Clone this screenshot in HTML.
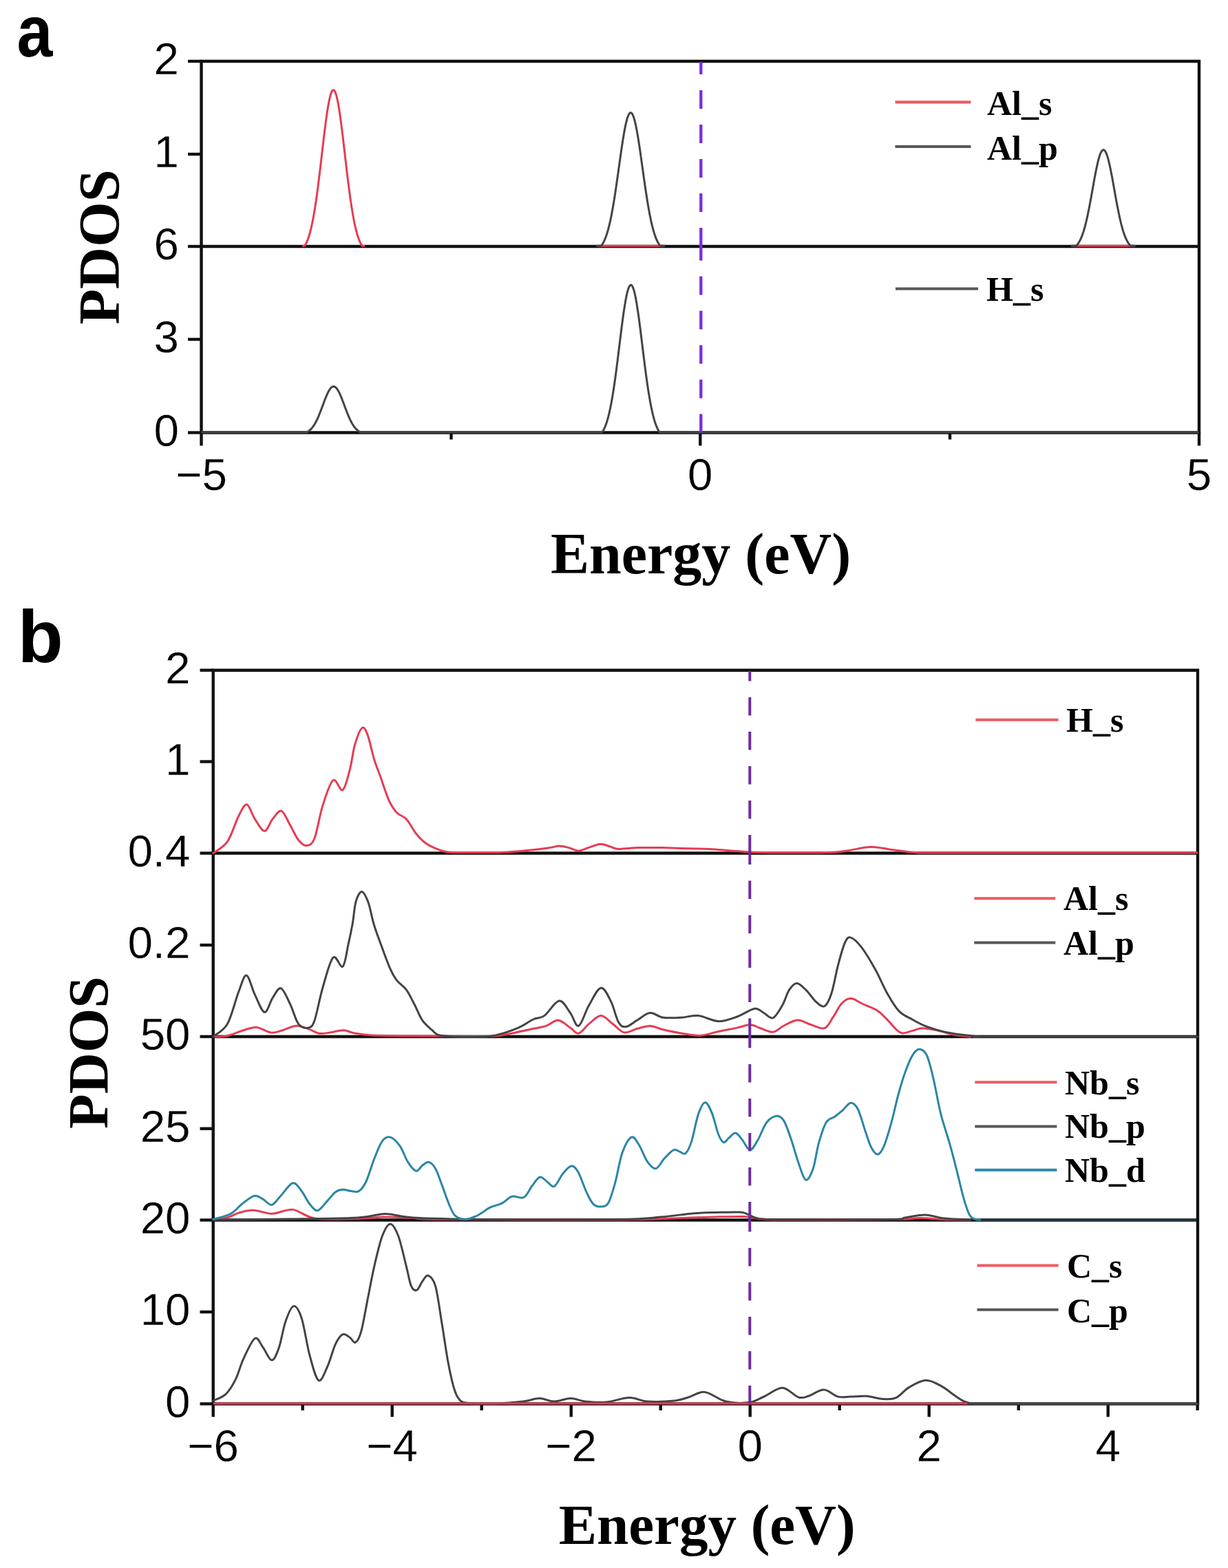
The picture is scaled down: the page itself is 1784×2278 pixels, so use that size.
<!DOCTYPE html><html><head><meta charset="utf-8"><title>PDOS</title><style>html,body{margin:0;padding:0;background:#fff;}svg{display:block;}.tk{font-family:"Liberation Sans",Arial,sans-serif;font-size:65.5px;fill:#000;stroke:#fff;stroke-width:0.3px;}.lg{font-family:"Liberation Serif","Times New Roman",serif;font-weight:bold;font-size:50px;fill:#000;}.ax{font-family:"Liberation Serif","Times New Roman",serif;font-weight:bold;fill:#000;}.pl{font-family:"Liberation Sans",Arial,sans-serif;font-weight:bold;fill:#000;}</style></head><body><svg width="1784" height="2278" viewBox="0 0 1784 2278"><rect width="1784" height="2278" fill="#fff"/><path d="M292.5,89.0 H1742.0 V628.5 H292.5 Z" fill="none" stroke="#111111" stroke-width="4.4"/><line x1="292.5" y1="358.0" x2="1742.0" y2="358.0" stroke="#111111" stroke-width="4.4"/><line x1="273.0" y1="89.0" x2="292.5" y2="89.0" stroke="#111111" stroke-width="4.4"/><line x1="273.0" y1="224.0" x2="292.5" y2="224.0" stroke="#111111" stroke-width="4.4"/><line x1="273.0" y1="358.0" x2="292.5" y2="358.0" stroke="#111111" stroke-width="4.4"/><line x1="273.0" y1="493.0" x2="292.5" y2="493.0" stroke="#111111" stroke-width="4.4"/><line x1="273.0" y1="628.5" x2="292.5" y2="628.5" stroke="#111111" stroke-width="4.4"/><line x1="292.5" y1="628.5" x2="292.5" y2="647.5" stroke="#111111" stroke-width="4.4"/><line x1="1017.3" y1="628.5" x2="1017.3" y2="647.5" stroke="#111111" stroke-width="4.4"/><line x1="1742.0" y1="628.5" x2="1742.0" y2="647.5" stroke="#111111" stroke-width="4.4"/><line x1="655.5" y1="628.5" x2="655.5" y2="638.5" stroke="#111111" stroke-width="4.4"/><line x1="1380.0" y1="628.5" x2="1380.0" y2="638.5" stroke="#111111" stroke-width="4.4"/><path d="M439.0,357.2 L440.0,357.2 L441.0,357.2 L442.0,357.2 L443.0,356.6 L444.0,354.9 L445.0,352.9 L446.0,350.7 L447.0,348.2 L448.0,345.5 L449.0,342.5 L450.0,339.1 L451.0,335.4 L452.0,331.4 L453.0,327.0 L454.0,322.2 L455.0,317.1 L456.0,311.6 L457.0,305.7 L458.0,299.4 L459.0,292.8 L460.0,285.8 L461.0,278.4 L462.0,270.8 L463.0,262.9 L464.0,254.8 L465.0,246.4 L466.0,238.0 L467.0,229.4 L468.0,220.8 L469.0,212.2 L470.0,203.7 L471.0,195.3 L472.0,187.2 L473.0,179.3 L474.0,171.9 L475.0,164.9 L476.0,158.3 L477.0,152.4 L478.0,147.0 L479.0,142.4 L480.0,138.5 L481.0,135.3 L482.0,132.9 L483.0,131.4 L484.0,130.7 L485.0,130.9 L486.0,131.9 L487.0,133.8 L488.0,136.5 L489.0,139.9 L490.0,144.2 L491.0,149.1 L492.0,154.7 L493.0,160.9 L494.0,167.6 L495.0,174.8 L496.0,182.4 L497.0,190.4 L498.0,198.6 L499.0,207.0 L500.0,215.6 L501.0,224.2 L502.0,232.8 L503.0,241.4 L504.0,249.8 L505.0,258.1 L506.0,266.1 L507.0,273.9 L508.0,281.4 L509.0,288.6 L510.0,295.5 L511.0,302.0 L512.0,308.1 L513.0,313.8 L514.0,319.2 L515.0,324.2 L516.0,328.8 L517.0,333.0 L518.0,336.9 L519.0,340.5 L520.0,343.7 L521.0,346.6 L522.0,349.3 L523.0,351.6 L524.0,353.7 L525.0,355.6 L526.0,357.2 L527.0,357.2 L528.0,357.2 L529.0,357.2 L530.0,357.2" fill="none" stroke="#e63c52" stroke-width="3.0" stroke-linejoin="round"/><line x1="868.0" y1="357.2" x2="965.0" y2="357.2" stroke="#e63c52" stroke-width="3.0"/><line x1="1558.0" y1="357.2" x2="1648.0" y2="357.2" stroke="#e63c52" stroke-width="3.0"/><path d="M866.0,357.2 L867.0,357.2 L868.0,357.2 L869.0,357.2 L870.0,357.2 L871.0,357.2 L872.0,357.2 L873.0,357.2 L874.0,356.4 L875.0,355.0 L876.0,353.3 L877.0,351.4 L878.0,349.4 L879.0,347.1 L880.0,344.5 L881.0,341.7 L882.0,338.7 L883.0,335.3 L884.0,331.7 L885.0,327.7 L886.0,323.5 L887.0,319.0 L888.0,314.1 L889.0,308.9 L890.0,303.5 L891.0,297.7 L892.0,291.7 L893.0,285.4 L894.0,278.9 L895.0,272.2 L896.0,265.3 L897.0,258.3 L898.0,251.2 L899.0,244.0 L900.0,236.8 L901.0,229.7 L902.0,222.7 L903.0,215.8 L904.0,209.2 L905.0,202.8 L906.0,196.7 L907.0,191.0 L908.0,185.7 L909.0,180.9 L910.0,176.6 L911.0,172.8 L912.0,169.7 L913.0,167.2 L914.0,165.4 L915.0,164.2 L916.0,163.7 L917.0,163.9 L918.0,164.8 L919.0,166.4 L920.0,168.6 L921.0,171.5 L922.0,175.0 L923.0,179.1 L924.0,183.7 L925.0,188.8 L926.0,194.3 L927.0,200.3 L928.0,206.6 L929.0,213.1 L930.0,219.9 L931.0,226.9 L932.0,234.0 L933.0,241.1 L934.0,248.3 L935.0,255.5 L936.0,262.5 L937.0,269.5 L938.0,276.2 L939.0,282.8 L940.0,289.2 L941.0,295.3 L942.0,301.2 L943.0,306.8 L944.0,312.1 L945.0,317.0 L946.0,321.7 L947.0,326.1 L948.0,330.1 L949.0,333.9 L950.0,337.4 L951.0,340.5 L952.0,343.4 L953.0,346.1 L954.0,348.5 L955.0,350.6 L956.0,352.6 L957.0,354.3 L958.0,355.9 L959.0,357.2 L960.0,357.2 L961.0,357.2 L962.0,357.2 L963.0,357.2 L964.0,357.2 L965.0,357.2 L966.0,357.2" fill="none" stroke="#444444" stroke-width="3.0" stroke-linejoin="round"/><path d="M1556.0,357.2 L1557.0,357.2 L1558.0,357.2 L1559.0,357.2 L1560.0,357.2 L1561.0,357.2 L1562.0,357.2 L1563.0,357.2 L1564.0,356.7 L1565.0,355.6 L1566.0,354.2 L1567.0,352.8 L1568.0,351.1 L1569.0,349.2 L1570.0,347.2 L1571.0,344.9 L1572.0,342.4 L1573.0,339.6 L1574.0,336.6 L1575.0,333.3 L1576.0,329.8 L1577.0,326.0 L1578.0,322.0 L1579.0,317.6 L1580.0,313.1 L1581.0,308.3 L1582.0,303.4 L1583.0,298.2 L1584.0,292.9 L1585.0,287.4 L1586.0,281.9 L1587.0,276.3 L1588.0,270.7 L1589.0,265.1 L1590.0,259.6 L1591.0,254.3 L1592.0,249.1 L1593.0,244.2 L1594.0,239.6 L1595.0,235.3 L1596.0,231.4 L1597.0,227.9 L1598.0,224.8 L1599.0,222.3 L1600.0,220.3 L1601.0,218.9 L1602.0,218.0 L1603.0,217.7 L1604.0,218.0 L1605.0,218.9 L1606.0,220.3 L1607.0,222.3 L1608.0,224.8 L1609.0,227.9 L1610.0,231.4 L1611.0,235.3 L1612.0,239.6 L1613.0,244.2 L1614.0,249.1 L1615.0,254.3 L1616.0,259.6 L1617.0,265.1 L1618.0,270.7 L1619.0,276.3 L1620.0,281.9 L1621.0,287.4 L1622.0,292.9 L1623.0,298.2 L1624.0,303.4 L1625.0,308.3 L1626.0,313.1 L1627.0,317.6 L1628.0,322.0 L1629.0,326.0 L1630.0,329.8 L1631.0,333.3 L1632.0,336.6 L1633.0,339.6 L1634.0,342.4 L1635.0,344.9 L1636.0,347.2 L1637.0,349.2 L1638.0,351.1 L1639.0,352.8 L1640.0,354.2 L1641.0,355.6 L1642.0,356.7 L1643.0,357.2 L1644.0,357.2 L1645.0,357.2 L1646.0,357.2 L1647.0,357.2 L1648.0,357.2 L1649.0,357.2 L1650.0,357.2" fill="none" stroke="#444444" stroke-width="3.0" stroke-linejoin="round"/><path d="M292.5,628.0 L293.5,628.0 L294.5,628.0 L295.5,628.0 L296.5,628.0 L297.5,628.0 L298.5,628.0 L299.5,628.0 L300.5,628.0 L301.5,628.0 L302.5,628.0 L303.5,628.0 L304.5,628.0 L305.5,628.0 L306.5,628.0 L307.5,628.0 L308.5,628.0 L309.5,628.0 L310.5,628.0 L311.5,628.0 L312.5,628.0 L313.5,628.0 L314.5,628.0 L315.5,628.0 L316.5,628.0 L317.5,628.0 L318.5,628.0 L319.5,628.0 L320.5,628.0 L321.5,628.0 L322.5,628.0 L323.5,628.0 L324.5,628.0 L325.5,628.0 L326.5,628.0 L327.5,628.0 L328.5,628.0 L329.5,628.0 L330.5,628.0 L331.5,628.0 L332.5,628.0 L333.5,628.0 L334.5,628.0 L335.5,628.0 L336.5,628.0 L337.5,628.0 L338.5,628.0 L339.5,628.0 L340.5,628.0 L341.5,628.0 L342.5,628.0 L343.5,628.0 L344.5,628.0 L345.5,628.0 L346.5,628.0 L347.5,628.0 L348.5,628.0 L349.5,628.0 L350.5,628.0 L351.5,628.0 L352.5,628.0 L353.5,628.0 L354.5,628.0 L355.5,628.0 L356.5,628.0 L357.5,628.0 L358.5,628.0 L359.5,628.0 L360.5,628.0 L361.5,628.0 L362.5,628.0 L363.5,628.0 L364.5,628.0 L365.5,628.0 L366.5,628.0 L367.5,628.0 L368.5,628.0 L369.5,628.0 L370.5,628.0 L371.5,628.0 L372.5,628.0 L373.5,628.0 L374.5,628.0 L375.5,628.0 L376.5,628.0 L377.5,628.0 L378.5,628.0 L379.5,628.0 L380.5,628.0 L381.5,628.0 L382.5,628.0 L383.5,628.0 L384.5,628.0 L385.5,628.0 L386.5,628.0 L387.5,628.0 L388.5,628.0 L389.5,628.0 L390.5,628.0 L391.5,628.0 L392.5,628.0 L393.5,628.0 L394.5,628.0 L395.5,628.0 L396.5,628.0 L397.5,628.0 L398.5,628.0 L399.5,628.0 L400.5,628.0 L401.5,628.0 L402.5,628.0 L403.5,628.0 L404.5,628.0 L405.5,628.0 L406.5,628.0 L407.5,628.0 L408.5,628.0 L409.5,628.0 L410.5,628.0 L411.5,628.0 L412.5,628.0 L413.5,628.0 L414.5,628.0 L415.5,628.0 L416.5,628.0 L417.5,628.0 L418.5,628.0 L419.5,628.0 L420.5,628.0 L421.5,628.0 L422.5,628.0 L423.5,628.0 L424.5,628.0 L425.5,628.0 L426.5,628.0 L427.5,628.0 L428.5,628.0 L429.5,628.0 L430.5,628.0 L431.5,628.0 L432.5,628.0 L433.5,628.0 L434.5,628.0 L435.5,628.0 L436.5,628.0 L437.5,628.0 L438.5,628.0 L439.5,628.0 L440.5,628.0 L441.5,628.0 L442.5,628.0 L443.5,628.0 L444.5,628.0 L445.5,628.0 L446.5,627.5 L447.5,626.9 L448.5,626.2 L449.5,625.4 L450.5,624.6 L451.5,623.6 L452.5,622.6 L453.5,621.4 L454.5,620.1 L455.5,618.7 L456.5,617.2 L457.5,615.5 L458.5,613.7 L459.5,611.8 L460.5,609.8 L461.5,607.6 L462.5,605.4 L463.5,603.0 L464.5,600.5 L465.5,598.0 L466.5,595.4 L467.5,592.7 L468.5,590.1 L469.5,587.4 L470.5,584.7 L471.5,582.0 L472.5,579.5 L473.5,577.0 L474.5,574.6 L475.5,572.3 L476.5,570.2 L477.5,568.3 L478.5,566.6 L479.5,565.1 L480.5,563.8 L481.5,562.8 L482.5,562.1 L483.5,561.7 L484.5,561.5 L485.5,561.6 L486.5,562.0 L487.5,562.7 L488.5,563.6 L489.5,564.8 L490.5,566.3 L491.5,567.9 L492.5,569.8 L493.5,571.9 L494.5,574.1 L495.5,576.5 L496.5,578.9 L497.5,581.5 L498.5,584.2 L499.5,586.8 L500.5,589.5 L501.5,592.2 L502.5,594.9 L503.5,597.5 L504.5,600.0 L505.5,602.5 L506.5,604.9 L507.5,607.2 L508.5,609.4 L509.5,611.4 L510.5,613.3 L511.5,615.2 L512.5,616.8 L513.5,618.4 L514.5,619.8 L515.5,621.1 L516.5,622.3 L517.5,623.4 L518.5,624.4 L519.5,625.3 L520.5,626.0 L521.5,626.7 L522.5,627.3 L523.5,627.9 L524.5,628.0 L525.5,628.0 L526.5,628.0 L527.5,628.0 L528.5,628.0 L529.5,628.0 L530.5,628.0 L531.5,628.0 L532.5,628.0 L533.5,628.0 L534.5,628.0 L535.5,628.0 L536.5,628.0 L537.5,628.0 L538.5,628.0 L539.5,628.0 L540.5,628.0 L541.5,628.0 L542.5,628.0 L543.5,628.0 L544.5,628.0 L545.5,628.0 L546.5,628.0 L547.5,628.0 L548.5,628.0 L549.5,628.0 L550.5,628.0 L551.5,628.0 L552.5,628.0 L553.5,628.0 L554.5,628.0 L555.5,628.0 L556.5,628.0 L557.5,628.0 L558.5,628.0 L559.5,628.0 L560.5,628.0 L561.5,628.0 L562.5,628.0 L563.5,628.0 L564.5,628.0 L565.5,628.0 L566.5,628.0 L567.5,628.0 L568.5,628.0 L569.5,628.0 L570.5,628.0 L571.5,628.0 L572.5,628.0 L573.5,628.0 L574.5,628.0 L575.5,628.0 L576.5,628.0 L577.5,628.0 L578.5,628.0 L579.5,628.0 L580.5,628.0 L581.5,628.0 L582.5,628.0 L583.5,628.0 L584.5,628.0 L585.5,628.0 L586.5,628.0 L587.5,628.0 L588.5,628.0 L589.5,628.0 L590.5,628.0 L591.5,628.0 L592.5,628.0 L593.5,628.0 L594.5,628.0 L595.5,628.0 L596.5,628.0 L597.5,628.0 L598.5,628.0 L599.5,628.0 L600.5,628.0 L601.5,628.0 L602.5,628.0 L603.5,628.0 L604.5,628.0 L605.5,628.0 L606.5,628.0 L607.5,628.0 L608.5,628.0 L609.5,628.0 L610.5,628.0 L611.5,628.0 L612.5,628.0 L613.5,628.0 L614.5,628.0 L615.5,628.0 L616.5,628.0 L617.5,628.0 L618.5,628.0 L619.5,628.0 L620.5,628.0 L621.5,628.0 L622.5,628.0 L623.5,628.0 L624.5,628.0 L625.5,628.0 L626.5,628.0 L627.5,628.0 L628.5,628.0 L629.5,628.0 L630.5,628.0 L631.5,628.0 L632.5,628.0 L633.5,628.0 L634.5,628.0 L635.5,628.0 L636.5,628.0 L637.5,628.0 L638.5,628.0 L639.5,628.0 L640.5,628.0 L641.5,628.0 L642.5,628.0 L643.5,628.0 L644.5,628.0 L645.5,628.0 L646.5,628.0 L647.5,628.0 L648.5,628.0 L649.5,628.0 L650.5,628.0 L651.5,628.0 L652.5,628.0 L653.5,628.0 L654.5,628.0 L655.5,628.0 L656.5,628.0 L657.5,628.0 L658.5,628.0 L659.5,628.0 L660.5,628.0 L661.5,628.0 L662.5,628.0 L663.5,628.0 L664.5,628.0 L665.5,628.0 L666.5,628.0 L667.5,628.0 L668.5,628.0 L669.5,628.0 L670.5,628.0 L671.5,628.0 L672.5,628.0 L673.5,628.0 L674.5,628.0 L675.5,628.0 L676.5,628.0 L677.5,628.0 L678.5,628.0 L679.5,628.0 L680.5,628.0 L681.5,628.0 L682.5,628.0 L683.5,628.0 L684.5,628.0 L685.5,628.0 L686.5,628.0 L687.5,628.0 L688.5,628.0 L689.5,628.0 L690.5,628.0 L691.5,628.0 L692.5,628.0 L693.5,628.0 L694.5,628.0 L695.5,628.0 L696.5,628.0 L697.5,628.0 L698.5,628.0 L699.5,628.0 L700.5,628.0 L701.5,628.0 L702.5,628.0 L703.5,628.0 L704.5,628.0 L705.5,628.0 L706.5,628.0 L707.5,628.0 L708.5,628.0 L709.5,628.0 L710.5,628.0 L711.5,628.0 L712.5,628.0 L713.5,628.0 L714.5,628.0 L715.5,628.0 L716.5,628.0 L717.5,628.0 L718.5,628.0 L719.5,628.0 L720.5,628.0 L721.5,628.0 L722.5,628.0 L723.5,628.0 L724.5,628.0 L725.5,628.0 L726.5,628.0 L727.5,628.0 L728.5,628.0 L729.5,628.0 L730.5,628.0 L731.5,628.0 L732.5,628.0 L733.5,628.0 L734.5,628.0 L735.5,628.0 L736.5,628.0 L737.5,628.0 L738.5,628.0 L739.5,628.0 L740.5,628.0 L741.5,628.0 L742.5,628.0 L743.5,628.0 L744.5,628.0 L745.5,628.0 L746.5,628.0 L747.5,628.0 L748.5,628.0 L749.5,628.0 L750.5,628.0 L751.5,628.0 L752.5,628.0 L753.5,628.0 L754.5,628.0 L755.5,628.0 L756.5,628.0 L757.5,628.0 L758.5,628.0 L759.5,628.0 L760.5,628.0 L761.5,628.0 L762.5,628.0 L763.5,628.0 L764.5,628.0 L765.5,628.0 L766.5,628.0 L767.5,628.0 L768.5,628.0 L769.5,628.0 L770.5,628.0 L771.5,628.0 L772.5,628.0 L773.5,628.0 L774.5,628.0 L775.5,628.0 L776.5,628.0 L777.5,628.0 L778.5,628.0 L779.5,628.0 L780.5,628.0 L781.5,628.0 L782.5,628.0 L783.5,628.0 L784.5,628.0 L785.5,628.0 L786.5,628.0 L787.5,628.0 L788.5,628.0 L789.5,628.0 L790.5,628.0 L791.5,628.0 L792.5,628.0 L793.5,628.0 L794.5,628.0 L795.5,628.0 L796.5,628.0 L797.5,628.0 L798.5,628.0 L799.5,628.0 L800.5,628.0 L801.5,628.0 L802.5,628.0 L803.5,628.0 L804.5,628.0 L805.5,628.0 L806.5,628.0 L807.5,628.0 L808.5,628.0 L809.5,628.0 L810.5,628.0 L811.5,628.0 L812.5,628.0 L813.5,628.0 L814.5,628.0 L815.5,628.0 L816.5,628.0 L817.5,628.0 L818.5,628.0 L819.5,628.0 L820.5,628.0 L821.5,628.0 L822.5,628.0 L823.5,628.0 L824.5,628.0 L825.5,628.0 L826.5,628.0 L827.5,628.0 L828.5,628.0 L829.5,628.0 L830.5,628.0 L831.5,628.0 L832.5,628.0 L833.5,628.0 L834.5,628.0 L835.5,628.0 L836.5,628.0 L837.5,628.0 L838.5,628.0 L839.5,628.0 L840.5,628.0 L841.5,628.0 L842.5,628.0 L843.5,628.0 L844.5,628.0 L845.5,628.0 L846.5,628.0 L847.5,628.0 L848.5,628.0 L849.5,628.0 L850.5,628.0 L851.5,628.0 L852.5,628.0 L853.5,628.0 L854.5,628.0 L855.5,628.0 L856.5,628.0 L857.5,628.0 L858.5,628.0 L859.5,628.0 L860.5,628.0 L861.5,628.0 L862.5,628.0 L863.5,628.0 L864.5,628.0 L865.5,628.0 L866.5,628.0 L867.5,628.0 L868.5,628.0 L869.5,628.0 L870.5,628.0 L871.5,628.0 L872.5,628.0 L873.5,628.0 L874.5,628.0 L875.5,627.0 L876.5,625.3 L877.5,623.3 L878.5,621.2 L879.5,618.8 L880.5,616.1 L881.5,613.2 L882.5,609.9 L883.5,606.3 L884.5,602.4 L885.5,598.1 L886.5,593.5 L887.5,588.6 L888.5,583.3 L889.5,577.6 L890.5,571.5 L891.5,565.2 L892.5,558.5 L893.5,551.5 L894.5,544.2 L895.5,536.6 L896.5,528.9 L897.5,521.0 L898.5,512.9 L899.5,504.8 L900.5,496.6 L901.5,488.5 L902.5,480.5 L903.5,472.7 L904.5,465.1 L905.5,457.8 L906.5,450.9 L907.5,444.4 L908.5,438.4 L909.5,432.9 L910.5,428.0 L911.5,423.8 L912.5,420.4 L913.5,417.6 L914.5,415.6 L915.5,414.4 L916.5,414.0 L917.5,414.4 L918.5,415.6 L919.5,417.6 L920.5,420.4 L921.5,423.8 L922.5,428.0 L923.5,432.9 L924.5,438.4 L925.5,444.4 L926.5,450.9 L927.5,457.8 L928.5,465.1 L929.5,472.7 L930.5,480.5 L931.5,488.5 L932.5,496.6 L933.5,504.8 L934.5,512.9 L935.5,521.0 L936.5,528.9 L937.5,536.6 L938.5,544.2 L939.5,551.5 L940.5,558.5 L941.5,565.2 L942.5,571.5 L943.5,577.6 L944.5,583.3 L945.5,588.6 L946.5,593.5 L947.5,598.1 L948.5,602.4 L949.5,606.3 L950.5,609.9 L951.5,613.2 L952.5,616.1 L953.5,618.8 L954.5,621.2 L955.5,623.3 L956.5,625.3 L957.5,627.0 L958.5,628.0 L959.5,628.0 L960.5,628.0 L961.5,628.0 L962.5,628.0 L963.5,628.0 L964.5,628.0 L965.5,628.0 L966.5,628.0 L967.5,628.0 L968.5,628.0 L969.5,628.0 L970.5,628.0 L971.5,628.0 L972.5,628.0 L973.5,628.0 L974.5,628.0 L975.5,628.0 L976.5,628.0 L977.5,628.0 L978.5,628.0 L979.5,628.0 L980.5,628.0 L981.5,628.0 L982.5,628.0 L983.5,628.0 L984.5,628.0 L985.5,628.0 L986.5,628.0 L987.5,628.0 L988.5,628.0 L989.5,628.0 L990.5,628.0 L991.5,628.0 L992.5,628.0 L993.5,628.0 L994.5,628.0 L995.5,628.0 L996.5,628.0 L997.5,628.0 L998.5,628.0 L999.5,628.0 L1000.5,628.0 L1001.5,628.0 L1002.5,628.0 L1003.5,628.0 L1004.5,628.0 L1005.5,628.0 L1006.5,628.0 L1007.5,628.0 L1008.5,628.0 L1009.5,628.0 L1010.5,628.0 L1011.5,628.0 L1012.5,628.0 L1013.5,628.0 L1014.5,628.0 L1015.5,628.0 L1016.5,628.0 L1017.5,628.0 L1018.5,628.0 L1019.5,628.0 L1020.5,628.0 L1021.5,628.0 L1022.5,628.0 L1023.5,628.0 L1024.5,628.0 L1025.5,628.0 L1026.5,628.0 L1027.5,628.0 L1028.5,628.0 L1029.5,628.0 L1030.5,628.0 L1031.5,628.0 L1032.5,628.0 L1033.5,628.0 L1034.5,628.0 L1035.5,628.0 L1036.5,628.0 L1037.5,628.0 L1038.5,628.0 L1039.5,628.0 L1040.5,628.0 L1041.5,628.0 L1042.5,628.0 L1043.5,628.0 L1044.5,628.0 L1045.5,628.0 L1046.5,628.0 L1047.5,628.0 L1048.5,628.0 L1049.5,628.0 L1050.5,628.0 L1051.5,628.0 L1052.5,628.0 L1053.5,628.0 L1054.5,628.0 L1055.5,628.0 L1056.5,628.0 L1057.5,628.0 L1058.5,628.0 L1059.5,628.0 L1060.5,628.0 L1061.5,628.0 L1062.5,628.0 L1063.5,628.0 L1064.5,628.0 L1065.5,628.0 L1066.5,628.0 L1067.5,628.0 L1068.5,628.0 L1069.5,628.0 L1070.5,628.0 L1071.5,628.0 L1072.5,628.0 L1073.5,628.0 L1074.5,628.0 L1075.5,628.0 L1076.5,628.0 L1077.5,628.0 L1078.5,628.0 L1079.5,628.0 L1080.5,628.0 L1081.5,628.0 L1082.5,628.0 L1083.5,628.0 L1084.5,628.0 L1085.5,628.0 L1086.5,628.0 L1087.5,628.0 L1088.5,628.0 L1089.5,628.0 L1090.5,628.0 L1091.5,628.0 L1092.5,628.0 L1093.5,628.0 L1094.5,628.0 L1095.5,628.0 L1096.5,628.0 L1097.5,628.0 L1098.5,628.0 L1099.5,628.0 L1100.5,628.0 L1101.5,628.0 L1102.5,628.0 L1103.5,628.0 L1104.5,628.0 L1105.5,628.0 L1106.5,628.0 L1107.5,628.0 L1108.5,628.0 L1109.5,628.0 L1110.5,628.0 L1111.5,628.0 L1112.5,628.0 L1113.5,628.0 L1114.5,628.0 L1115.5,628.0 L1116.5,628.0 L1117.5,628.0 L1118.5,628.0 L1119.5,628.0 L1120.5,628.0 L1121.5,628.0 L1122.5,628.0 L1123.5,628.0 L1124.5,628.0 L1125.5,628.0 L1126.5,628.0 L1127.5,628.0 L1128.5,628.0 L1129.5,628.0 L1130.5,628.0 L1131.5,628.0 L1132.5,628.0 L1133.5,628.0 L1134.5,628.0 L1135.5,628.0 L1136.5,628.0 L1137.5,628.0 L1138.5,628.0 L1139.5,628.0 L1140.5,628.0 L1141.5,628.0 L1142.5,628.0 L1143.5,628.0 L1144.5,628.0 L1145.5,628.0 L1146.5,628.0 L1147.5,628.0 L1148.5,628.0 L1149.5,628.0 L1150.5,628.0 L1151.5,628.0 L1152.5,628.0 L1153.5,628.0 L1154.5,628.0 L1155.5,628.0 L1156.5,628.0 L1157.5,628.0 L1158.5,628.0 L1159.5,628.0 L1160.5,628.0 L1161.5,628.0 L1162.5,628.0 L1163.5,628.0 L1164.5,628.0 L1165.5,628.0 L1166.5,628.0 L1167.5,628.0 L1168.5,628.0 L1169.5,628.0 L1170.5,628.0 L1171.5,628.0 L1172.5,628.0 L1173.5,628.0 L1174.5,628.0 L1175.5,628.0 L1176.5,628.0 L1177.5,628.0 L1178.5,628.0 L1179.5,628.0 L1180.5,628.0 L1181.5,628.0 L1182.5,628.0 L1183.5,628.0 L1184.5,628.0 L1185.5,628.0 L1186.5,628.0 L1187.5,628.0 L1188.5,628.0 L1189.5,628.0 L1190.5,628.0 L1191.5,628.0 L1192.5,628.0 L1193.5,628.0 L1194.5,628.0 L1195.5,628.0 L1196.5,628.0 L1197.5,628.0 L1198.5,628.0 L1199.5,628.0 L1200.5,628.0 L1201.5,628.0 L1202.5,628.0 L1203.5,628.0 L1204.5,628.0 L1205.5,628.0 L1206.5,628.0 L1207.5,628.0 L1208.5,628.0 L1209.5,628.0 L1210.5,628.0 L1211.5,628.0 L1212.5,628.0 L1213.5,628.0 L1214.5,628.0 L1215.5,628.0 L1216.5,628.0 L1217.5,628.0 L1218.5,628.0 L1219.5,628.0 L1220.5,628.0 L1221.5,628.0 L1222.5,628.0 L1223.5,628.0 L1224.5,628.0 L1225.5,628.0 L1226.5,628.0 L1227.5,628.0 L1228.5,628.0 L1229.5,628.0 L1230.5,628.0 L1231.5,628.0 L1232.5,628.0 L1233.5,628.0 L1234.5,628.0 L1235.5,628.0 L1236.5,628.0 L1237.5,628.0 L1238.5,628.0 L1239.5,628.0 L1240.5,628.0 L1241.5,628.0 L1242.5,628.0 L1243.5,628.0 L1244.5,628.0 L1245.5,628.0 L1246.5,628.0 L1247.5,628.0 L1248.5,628.0 L1249.5,628.0 L1250.5,628.0 L1251.5,628.0 L1252.5,628.0 L1253.5,628.0 L1254.5,628.0 L1255.5,628.0 L1256.5,628.0 L1257.5,628.0 L1258.5,628.0 L1259.5,628.0 L1260.5,628.0 L1261.5,628.0 L1262.5,628.0 L1263.5,628.0 L1264.5,628.0 L1265.5,628.0 L1266.5,628.0 L1267.5,628.0 L1268.5,628.0 L1269.5,628.0 L1270.5,628.0 L1271.5,628.0 L1272.5,628.0 L1273.5,628.0 L1274.5,628.0 L1275.5,628.0 L1276.5,628.0 L1277.5,628.0 L1278.5,628.0 L1279.5,628.0 L1280.5,628.0 L1281.5,628.0 L1282.5,628.0 L1283.5,628.0 L1284.5,628.0 L1285.5,628.0 L1286.5,628.0 L1287.5,628.0 L1288.5,628.0 L1289.5,628.0 L1290.5,628.0 L1291.5,628.0 L1292.5,628.0 L1293.5,628.0 L1294.5,628.0 L1295.5,628.0 L1296.5,628.0 L1297.5,628.0 L1298.5,628.0 L1299.5,628.0 L1300.5,628.0 L1301.5,628.0 L1302.5,628.0 L1303.5,628.0 L1304.5,628.0 L1305.5,628.0 L1306.5,628.0 L1307.5,628.0 L1308.5,628.0 L1309.5,628.0 L1310.5,628.0 L1311.5,628.0 L1312.5,628.0 L1313.5,628.0 L1314.5,628.0 L1315.5,628.0 L1316.5,628.0 L1317.5,628.0 L1318.5,628.0 L1319.5,628.0 L1320.5,628.0 L1321.5,628.0 L1322.5,628.0 L1323.5,628.0 L1324.5,628.0 L1325.5,628.0 L1326.5,628.0 L1327.5,628.0 L1328.5,628.0 L1329.5,628.0 L1330.5,628.0 L1331.5,628.0 L1332.5,628.0 L1333.5,628.0 L1334.5,628.0 L1335.5,628.0 L1336.5,628.0 L1337.5,628.0 L1338.5,628.0 L1339.5,628.0 L1340.5,628.0 L1341.5,628.0 L1342.5,628.0 L1343.5,628.0 L1344.5,628.0 L1345.5,628.0 L1346.5,628.0 L1347.5,628.0 L1348.5,628.0 L1349.5,628.0 L1350.5,628.0 L1351.5,628.0 L1352.5,628.0 L1353.5,628.0 L1354.5,628.0 L1355.5,628.0 L1356.5,628.0 L1357.5,628.0 L1358.5,628.0 L1359.5,628.0 L1360.5,628.0 L1361.5,628.0 L1362.5,628.0 L1363.5,628.0 L1364.5,628.0 L1365.5,628.0 L1366.5,628.0 L1367.5,628.0 L1368.5,628.0 L1369.5,628.0 L1370.5,628.0 L1371.5,628.0 L1372.5,628.0 L1373.5,628.0 L1374.5,628.0 L1375.5,628.0 L1376.5,628.0 L1377.5,628.0 L1378.5,628.0 L1379.5,628.0 L1380.5,628.0 L1381.5,628.0 L1382.5,628.0 L1383.5,628.0 L1384.5,628.0 L1385.5,628.0 L1386.5,628.0 L1387.5,628.0 L1388.5,628.0 L1389.5,628.0 L1390.5,628.0 L1391.5,628.0 L1392.5,628.0 L1393.5,628.0 L1394.5,628.0 L1395.5,628.0 L1396.5,628.0 L1397.5,628.0 L1398.5,628.0 L1399.5,628.0 L1400.5,628.0 L1401.5,628.0 L1402.5,628.0 L1403.5,628.0 L1404.5,628.0 L1405.5,628.0 L1406.5,628.0 L1407.5,628.0 L1408.5,628.0 L1409.5,628.0 L1410.5,628.0 L1411.5,628.0 L1412.5,628.0 L1413.5,628.0 L1414.5,628.0 L1415.5,628.0 L1416.5,628.0 L1417.5,628.0 L1418.5,628.0 L1419.5,628.0 L1420.5,628.0 L1421.5,628.0 L1422.5,628.0 L1423.5,628.0 L1424.5,628.0 L1425.5,628.0 L1426.5,628.0 L1427.5,628.0 L1428.5,628.0 L1429.5,628.0 L1430.5,628.0 L1431.5,628.0 L1432.5,628.0 L1433.5,628.0 L1434.5,628.0 L1435.5,628.0 L1436.5,628.0 L1437.5,628.0 L1438.5,628.0 L1439.5,628.0 L1440.5,628.0 L1441.5,628.0 L1442.5,628.0 L1443.5,628.0 L1444.5,628.0 L1445.5,628.0 L1446.5,628.0 L1447.5,628.0 L1448.5,628.0 L1449.5,628.0 L1450.5,628.0 L1451.5,628.0 L1452.5,628.0 L1453.5,628.0 L1454.5,628.0 L1455.5,628.0 L1456.5,628.0 L1457.5,628.0 L1458.5,628.0 L1459.5,628.0 L1460.5,628.0 L1461.5,628.0 L1462.5,628.0 L1463.5,628.0 L1464.5,628.0 L1465.5,628.0 L1466.5,628.0 L1467.5,628.0 L1468.5,628.0 L1469.5,628.0 L1470.5,628.0 L1471.5,628.0 L1472.5,628.0 L1473.5,628.0 L1474.5,628.0 L1475.5,628.0 L1476.5,628.0 L1477.5,628.0 L1478.5,628.0 L1479.5,628.0 L1480.5,628.0 L1481.5,628.0 L1482.5,628.0 L1483.5,628.0 L1484.5,628.0 L1485.5,628.0 L1486.5,628.0 L1487.5,628.0 L1488.5,628.0 L1489.5,628.0 L1490.5,628.0 L1491.5,628.0 L1492.5,628.0 L1493.5,628.0 L1494.5,628.0 L1495.5,628.0 L1496.5,628.0 L1497.5,628.0 L1498.5,628.0 L1499.5,628.0 L1500.5,628.0 L1501.5,628.0 L1502.5,628.0 L1503.5,628.0 L1504.5,628.0 L1505.5,628.0 L1506.5,628.0 L1507.5,628.0 L1508.5,628.0 L1509.5,628.0 L1510.5,628.0 L1511.5,628.0 L1512.5,628.0 L1513.5,628.0 L1514.5,628.0 L1515.5,628.0 L1516.5,628.0 L1517.5,628.0 L1518.5,628.0 L1519.5,628.0 L1520.5,628.0 L1521.5,628.0 L1522.5,628.0 L1523.5,628.0 L1524.5,628.0 L1525.5,628.0 L1526.5,628.0 L1527.5,628.0 L1528.5,628.0 L1529.5,628.0 L1530.5,628.0 L1531.5,628.0 L1532.5,628.0 L1533.5,628.0 L1534.5,628.0 L1535.5,628.0 L1536.5,628.0 L1537.5,628.0 L1538.5,628.0 L1539.5,628.0 L1540.5,628.0 L1541.5,628.0 L1542.5,628.0 L1543.5,628.0 L1544.5,628.0 L1545.5,628.0 L1546.5,628.0 L1547.5,628.0 L1548.5,628.0 L1549.5,628.0 L1550.5,628.0 L1551.5,628.0 L1552.5,628.0 L1553.5,628.0 L1554.5,628.0 L1555.5,628.0 L1556.5,628.0 L1557.5,628.0 L1558.5,628.0 L1559.5,628.0 L1560.5,628.0 L1561.5,628.0 L1562.5,628.0 L1563.5,628.0 L1564.5,628.0 L1565.5,628.0 L1566.5,628.0 L1567.5,628.0 L1568.5,628.0 L1569.5,628.0 L1570.5,628.0 L1571.5,628.0 L1572.5,628.0 L1573.5,628.0 L1574.5,628.0 L1575.5,628.0 L1576.5,628.0 L1577.5,628.0 L1578.5,628.0 L1579.5,628.0 L1580.5,628.0 L1581.5,628.0 L1582.5,628.0 L1583.5,628.0 L1584.5,628.0 L1585.5,628.0 L1586.5,628.0 L1587.5,628.0 L1588.5,628.0 L1589.5,628.0 L1590.5,628.0 L1591.5,628.0 L1592.5,628.0 L1593.5,628.0 L1594.5,628.0 L1595.5,628.0 L1596.5,628.0 L1597.5,628.0 L1598.5,628.0 L1599.5,628.0 L1600.5,628.0 L1601.5,628.0 L1602.5,628.0 L1603.5,628.0 L1604.5,628.0 L1605.5,628.0 L1606.5,628.0 L1607.5,628.0 L1608.5,628.0 L1609.5,628.0 L1610.5,628.0 L1611.5,628.0 L1612.5,628.0 L1613.5,628.0 L1614.5,628.0 L1615.5,628.0 L1616.5,628.0 L1617.5,628.0 L1618.5,628.0 L1619.5,628.0 L1620.5,628.0 L1621.5,628.0 L1622.5,628.0 L1623.5,628.0 L1624.5,628.0 L1625.5,628.0 L1626.5,628.0 L1627.5,628.0 L1628.5,628.0 L1629.5,628.0 L1630.5,628.0 L1631.5,628.0 L1632.5,628.0 L1633.5,628.0 L1634.5,628.0 L1635.5,628.0 L1636.5,628.0 L1637.5,628.0 L1638.5,628.0 L1639.5,628.0 L1640.5,628.0 L1641.5,628.0 L1642.5,628.0 L1643.5,628.0 L1644.5,628.0 L1645.5,628.0 L1646.5,628.0 L1647.5,628.0 L1648.5,628.0 L1649.5,628.0 L1650.5,628.0 L1651.5,628.0 L1652.5,628.0 L1653.5,628.0 L1654.5,628.0 L1655.5,628.0 L1656.5,628.0 L1657.5,628.0 L1658.5,628.0 L1659.5,628.0 L1660.5,628.0 L1661.5,628.0 L1662.5,628.0 L1663.5,628.0 L1664.5,628.0 L1665.5,628.0 L1666.5,628.0 L1667.5,628.0 L1668.5,628.0 L1669.5,628.0 L1670.5,628.0 L1671.5,628.0 L1672.5,628.0 L1673.5,628.0 L1674.5,628.0 L1675.5,628.0 L1676.5,628.0 L1677.5,628.0 L1678.5,628.0 L1679.5,628.0 L1680.5,628.0 L1681.5,628.0 L1682.5,628.0 L1683.5,628.0 L1684.5,628.0 L1685.5,628.0 L1686.5,628.0 L1687.5,628.0 L1688.5,628.0 L1689.5,628.0 L1690.5,628.0 L1691.5,628.0 L1692.5,628.0 L1693.5,628.0 L1694.5,628.0 L1695.5,628.0 L1696.5,628.0 L1697.5,628.0 L1698.5,628.0 L1699.5,628.0 L1700.5,628.0 L1701.5,628.0 L1702.5,628.0 L1703.5,628.0 L1704.5,628.0 L1705.5,628.0 L1706.5,628.0 L1707.5,628.0 L1708.5,628.0 L1709.5,628.0 L1710.5,628.0 L1711.5,628.0 L1712.5,628.0 L1713.5,628.0 L1714.5,628.0 L1715.5,628.0 L1716.5,628.0 L1717.5,628.0 L1718.5,628.0 L1719.5,628.0 L1720.5,628.0 L1721.5,628.0 L1722.5,628.0 L1723.5,628.0 L1724.5,628.0 L1725.5,628.0 L1726.5,628.0 L1727.5,628.0 L1728.5,628.0 L1729.5,628.0 L1730.5,628.0 L1731.5,628.0 L1732.5,628.0 L1733.5,628.0 L1734.5,628.0 L1735.5,628.0 L1736.5,628.0 L1737.5,628.0 L1738.5,628.0 L1739.5,628.0 L1740.5,628.0 L1741.5,628.0" fill="none" stroke="#444444" stroke-width="3.0" stroke-linejoin="round"/><line x1="1018.3" y1="628.5" x2="1018.3" y2="358.0" stroke="#7a2ed6" stroke-width="4.3" stroke-dasharray="27 23"/><line x1="1018.3" y1="358.0" x2="1018.3" y2="90.0" stroke="#7a2ed6" stroke-width="4.3" stroke-dasharray="27 23"/><text class="tk" x="260.0" y="108.0" text-anchor="end">2</text><text class="tk" x="260.0" y="243.0" text-anchor="end">1</text><text class="tk" x="260.0" y="377.0" text-anchor="end">6</text><text class="tk" x="260.0" y="512.0" text-anchor="end">3</text><text class="tk" x="260.0" y="647.5" text-anchor="end">0</text><text class="tk" x="292.5" y="712.0" text-anchor="middle">−5</text><text class="tk" x="1017.3" y="712.0" text-anchor="middle">0</text><text class="tk" x="1742.0" y="712.0" text-anchor="middle">5</text><line x1="1300.5" y1="148.3" x2="1410.5" y2="148.3" stroke="#ee5b62" stroke-width="4.2"/><line x1="1300.5" y1="213" x2="1410.5" y2="213" stroke="#585858" stroke-width="4.2"/><line x1="1301" y1="419.5" x2="1421" y2="419.5" stroke="#585858" stroke-width="4.2"/><text class="lg" x="1434" y="167">Al_s</text><text class="lg" x="1434" y="232">Al_p</text><text class="lg" x="1433" y="436.5">H_s</text><text class="ax" x="800" y="833" font-size="84">Energy (eV)</text><text class="ax" font-size="84.5" transform="translate(173.2,471.5) rotate(-90)">PDOS</text><text class="pl" font-size="106" transform="translate(24.5,82) scale(0.88,1)">a</text><path d="M309.7,973.7 H1740.0 V2039.5 H309.7 Z" fill="none" stroke="#111111" stroke-width="4.4"/><line x1="309.7" y1="1239.5" x2="1740.0" y2="1239.5" stroke="#111111" stroke-width="4.4"/><line x1="309.7" y1="1506.0" x2="1740.0" y2="1506.0" stroke="#111111" stroke-width="4.4"/><line x1="309.7" y1="1772.5" x2="1740.0" y2="1772.5" stroke="#111111" stroke-width="4.4"/><line x1="290.5" y1="973.7" x2="309.7" y2="973.7" stroke="#111111" stroke-width="4.4"/><line x1="290.5" y1="1106.5" x2="309.7" y2="1106.5" stroke="#111111" stroke-width="4.4"/><line x1="290.5" y1="1239.5" x2="309.7" y2="1239.5" stroke="#111111" stroke-width="4.4"/><line x1="290.5" y1="1373.0" x2="309.7" y2="1373.0" stroke="#111111" stroke-width="4.4"/><line x1="290.5" y1="1506.0" x2="309.7" y2="1506.0" stroke="#111111" stroke-width="4.4"/><line x1="290.5" y1="1639.7" x2="309.7" y2="1639.7" stroke="#111111" stroke-width="4.4"/><line x1="290.5" y1="1772.5" x2="309.7" y2="1772.5" stroke="#111111" stroke-width="4.4"/><line x1="290.5" y1="1906.0" x2="309.7" y2="1906.0" stroke="#111111" stroke-width="4.4"/><line x1="290.5" y1="2039.5" x2="309.7" y2="2039.5" stroke="#111111" stroke-width="4.4"/><line x1="309.7" y1="2039.5" x2="309.7" y2="2058.5" stroke="#111111" stroke-width="4.4"/><line x1="569.7" y1="2039.5" x2="569.7" y2="2058.5" stroke="#111111" stroke-width="4.4"/><line x1="829.7" y1="2039.5" x2="829.7" y2="2058.5" stroke="#111111" stroke-width="4.4"/><line x1="1089.7" y1="2039.5" x2="1089.7" y2="2058.5" stroke="#111111" stroke-width="4.4"/><line x1="1349.7" y1="2039.5" x2="1349.7" y2="2058.5" stroke="#111111" stroke-width="4.4"/><line x1="1609.7" y1="2039.5" x2="1609.7" y2="2058.5" stroke="#111111" stroke-width="4.4"/><line x1="439.7" y1="2039.5" x2="439.7" y2="2049.0" stroke="#111111" stroke-width="4.4"/><line x1="699.7" y1="2039.5" x2="699.7" y2="2049.0" stroke="#111111" stroke-width="4.4"/><line x1="959.7" y1="2039.5" x2="959.7" y2="2049.0" stroke="#111111" stroke-width="4.4"/><line x1="1219.7" y1="2039.5" x2="1219.7" y2="2049.0" stroke="#111111" stroke-width="4.4"/><line x1="1479.7" y1="2039.5" x2="1479.7" y2="2049.0" stroke="#111111" stroke-width="4.4"/><line x1="1739.7" y1="2039.5" x2="1739.7" y2="2049.0" stroke="#111111" stroke-width="4.4"/><path d="M309.7,1239.5C313.1,1236.7 324.2,1231.8 330.4,1222.7C336.6,1213.7 342.1,1194.2 346.8,1185.2C351.5,1176.2 354.6,1168.0 358.5,1168.8C362.4,1169.6 366.0,1183.5 370.3,1189.9C374.6,1196.3 380.0,1207.4 384.3,1207.4C388.6,1207.4 391.9,1194.8 396.0,1189.9C400.1,1185.0 404.6,1176.6 408.9,1178.2C413.2,1179.8 417.7,1192.3 421.8,1199.3C425.9,1206.3 429.6,1215.4 433.5,1220.3C437.4,1225.2 441.3,1228.9 445.2,1228.5C449.1,1228.1 453.0,1227.6 456.9,1218.0C460.8,1208.4 464.1,1185.1 468.6,1171.1C473.1,1157.0 478.9,1137.6 483.8,1133.7C488.7,1129.8 493.8,1150.4 497.9,1147.7C502.0,1145.0 505.5,1128.2 508.4,1117.3C511.3,1106.4 512.6,1092.2 515.5,1082.2C518.4,1072.2 522.9,1059.9 526.0,1057.6C529.1,1055.2 531.3,1060.5 534.2,1068.1C537.1,1075.7 540.5,1093.0 543.6,1103.2C546.7,1113.4 549.4,1119.2 552.9,1129.0C556.4,1138.8 560.7,1153.2 564.6,1161.8C568.5,1170.4 572.0,1175.8 576.3,1180.5C580.6,1185.2 585.7,1184.8 590.4,1189.9C595.1,1195.0 599.7,1205.2 604.4,1211.0C609.1,1216.8 613.0,1221.1 618.5,1225.0C624.0,1228.9 631.7,1232.2 637.2,1234.4C642.7,1236.6 644.2,1237.2 651.3,1237.9C658.4,1238.6 666.9,1238.5 680.0,1238.6C693.1,1238.6 715.0,1238.8 730.0,1238.2C745.0,1237.6 758.9,1236.2 770.3,1235.1C781.7,1234.0 791.4,1232.6 798.4,1231.6C805.4,1230.6 807.7,1229.0 812.4,1229.0C817.1,1229.0 821.8,1230.4 826.5,1231.6C831.2,1232.8 835.8,1236.0 840.5,1236.0C845.2,1236.0 849.3,1233.2 854.6,1231.6C859.9,1230.0 866.8,1226.6 872.1,1226.3C877.4,1226.0 881.8,1228.7 886.2,1229.9C890.6,1231.1 891.5,1233.1 898.5,1233.4C905.5,1233.7 917.5,1231.9 928.3,1231.6C939.1,1231.3 953.2,1231.4 963.5,1231.6C973.8,1231.8 978.7,1232.2 989.8,1232.5C1000.9,1232.8 1016.6,1232.8 1030.0,1233.5C1043.4,1234.2 1056.7,1235.7 1070.0,1236.5C1083.3,1237.3 1088.3,1238.2 1110.0,1238.5C1131.7,1238.8 1180.0,1238.9 1200.0,1238.5C1220.0,1238.1 1219.2,1237.3 1230.0,1236.0C1240.8,1234.7 1253.3,1230.7 1265.0,1230.5C1276.7,1230.3 1289.2,1233.7 1300.0,1235.0C1310.8,1236.3 1316.7,1237.8 1330.0,1238.5C1343.3,1239.2 1311.8,1238.9 1380.0,1239.0C1448.2,1239.1 1679.2,1239.0 1739.0,1239.0" fill="none" stroke="#e63c52" stroke-width="3.0" stroke-linejoin="round" stroke-linecap="round"/><path d="M309.7,1506.0C313.1,1505.8 322.6,1506.5 330.0,1505.0C337.4,1503.5 346.8,1498.8 353.9,1496.7C361.0,1494.6 366.0,1491.9 372.6,1492.5C379.2,1493.1 387.5,1499.5 393.7,1500.2C399.9,1501.0 403.8,1498.7 410.0,1497.0C416.2,1495.3 424.5,1490.4 431.1,1490.2C437.8,1490.0 444.4,1493.7 449.9,1495.6C455.4,1497.5 458.9,1500.7 463.9,1501.4C468.9,1502.1 474.1,1500.8 480.0,1500.0C485.9,1499.2 493.2,1496.5 499.0,1496.7C504.8,1496.9 508.2,1499.8 515.0,1501.0C521.8,1502.2 525.8,1503.3 540.0,1504.0C554.2,1504.7 573.3,1504.8 600.0,1505.0C626.7,1505.2 678.5,1505.7 700.0,1505.5C721.5,1505.3 716.4,1505.7 728.9,1503.9C741.4,1502.1 763.9,1496.8 774.7,1494.5C785.5,1492.2 787.5,1492.4 793.5,1490.4C799.5,1488.4 805.2,1481.8 811.0,1482.3C816.8,1482.8 823.6,1489.9 828.5,1493.1C833.4,1496.2 836.1,1502.1 840.6,1501.2C845.1,1500.3 850.1,1492.0 855.5,1487.7C860.9,1483.4 867.2,1475.6 873.0,1475.6C878.8,1475.6 884.9,1483.7 890.5,1487.7C896.1,1491.8 900.8,1498.8 906.6,1499.9C912.4,1501.0 919.2,1496.1 925.5,1494.5C931.8,1492.9 938.0,1490.2 944.3,1490.4C950.6,1490.6 955.6,1494.0 963.2,1495.8C970.8,1497.6 981.1,1499.8 990.1,1501.2C999.1,1502.6 1008.0,1504.9 1017.0,1504.4C1026.0,1504.0 1035.0,1500.4 1044.0,1498.5C1053.0,1496.6 1063.4,1494.7 1071.0,1493.1C1078.6,1491.5 1084.2,1488.7 1089.8,1488.8C1095.4,1488.9 1099.1,1492.0 1104.6,1493.7C1110.1,1495.5 1117.3,1499.9 1123.0,1499.3C1128.7,1498.7 1133.0,1492.9 1139.0,1490.0C1145.0,1487.1 1152.1,1482.3 1158.7,1482.1C1165.3,1481.9 1171.9,1486.9 1178.4,1488.8C1185.0,1490.7 1192.7,1495.5 1198.0,1493.7C1203.3,1491.9 1206.2,1483.7 1210.3,1477.7C1214.4,1471.8 1218.3,1462.5 1222.6,1458.0C1226.9,1453.5 1231.2,1450.6 1236.1,1450.6C1241.0,1450.6 1245.8,1455.1 1252.1,1458.0C1258.4,1460.9 1268.0,1464.0 1274.2,1467.9C1280.4,1471.8 1284.5,1476.9 1289.0,1481.4C1293.5,1485.9 1297.6,1491.6 1301.3,1494.9C1305.0,1498.2 1307.0,1500.6 1311.1,1501.0C1315.2,1501.4 1321.0,1498.6 1325.9,1497.4C1330.8,1496.2 1334.4,1493.7 1340.6,1493.7C1346.8,1493.7 1355.0,1495.8 1362.8,1497.4C1370.6,1499.0 1379.5,1502.1 1387.4,1503.5C1395.3,1504.9 1406.2,1505.6 1410.0,1506.0" fill="none" stroke="#e63c52" stroke-width="3.0" stroke-linejoin="round" stroke-linecap="round"/><path d="M309.7,1506.0C313.1,1502.9 324.2,1498.3 330.4,1487.4C336.6,1476.5 342.2,1452.2 346.8,1440.5C351.4,1428.8 354.2,1416.3 358.1,1417.1C362.0,1417.9 365.9,1436.3 370.3,1445.2C374.7,1454.1 380.0,1469.7 384.3,1470.5C388.6,1471.3 392.0,1455.7 396.0,1449.9C400.0,1444.1 403.9,1434.2 408.2,1435.8C412.5,1437.4 417.6,1450.7 421.8,1459.3C426.0,1467.9 429.2,1481.8 433.5,1487.4C437.8,1493.1 443.6,1494.0 447.5,1493.2C451.4,1492.4 453.4,1492.3 456.9,1482.7C460.4,1473.1 464.1,1451.0 468.6,1435.8C473.1,1420.6 478.9,1396.6 483.8,1391.3C488.7,1386.0 494.2,1407.4 497.9,1404.2C501.6,1401.0 503.6,1382.7 506.0,1372.0C508.4,1361.3 510.7,1350.3 512.5,1340.0C514.3,1329.7 514.8,1317.4 517.0,1310.0C519.2,1302.6 522.6,1295.3 525.6,1295.5C528.6,1295.7 532.0,1303.0 535.0,1311.0C538.0,1319.0 540.0,1332.7 543.4,1343.7C546.8,1354.8 551.4,1366.6 555.3,1377.3C559.2,1388.0 563.5,1399.9 567.0,1407.7C570.5,1415.5 572.4,1419.0 576.3,1424.1C580.2,1429.2 586.1,1432.3 590.4,1438.2C594.7,1444.1 598.2,1451.9 602.1,1459.3C606.0,1466.7 609.5,1476.5 613.8,1482.7C618.1,1488.9 624.0,1493.2 627.9,1496.7C631.8,1500.2 631.9,1502.2 637.2,1503.7C642.6,1505.2 649.5,1505.6 660.0,1506.0C670.5,1506.4 689.9,1506.3 700.0,1506.0C710.1,1505.7 711.9,1506.1 720.8,1503.9C729.6,1501.8 744.1,1496.9 753.1,1493.1C762.1,1489.3 768.4,1483.9 774.7,1481.0C781.0,1478.1 784.5,1480.1 790.8,1475.6C797.1,1471.1 806.1,1454.8 812.4,1454.1C818.7,1453.4 823.8,1465.5 828.5,1471.6C833.2,1477.6 836.1,1492.2 840.6,1490.4C845.1,1488.6 850.1,1470.0 855.5,1460.8C860.9,1451.6 867.6,1436.1 873.0,1435.2C878.4,1434.3 883.5,1447.1 887.8,1455.4C892.0,1463.7 894.9,1478.9 898.5,1485.0C902.1,1491.1 904.8,1492.2 909.3,1491.8C913.8,1491.3 919.7,1485.7 925.5,1482.3C931.3,1478.9 938.0,1472.3 944.3,1471.6C950.6,1470.9 955.6,1477.2 963.2,1478.3C970.8,1479.4 981.6,1478.8 990.1,1478.3C998.6,1477.8 1005.4,1474.7 1014.4,1475.6C1023.4,1476.5 1034.6,1483.5 1044.0,1483.7C1053.4,1483.9 1062.2,1480.0 1070.9,1477.0C1079.6,1474.0 1089.6,1466.3 1096.0,1465.4C1102.4,1464.5 1105.0,1469.2 1109.5,1471.5C1114.0,1473.8 1118.5,1480.7 1123.0,1478.9C1127.5,1477.1 1132.7,1467.2 1136.6,1460.5C1140.5,1453.8 1142.9,1443.7 1146.4,1438.4C1149.9,1433.1 1153.4,1428.5 1157.5,1428.5C1161.6,1428.5 1166.3,1433.9 1171.0,1438.4C1175.7,1442.9 1181.2,1451.7 1185.7,1455.6C1190.2,1459.5 1194.3,1463.8 1198.0,1461.7C1201.7,1459.7 1204.6,1453.3 1207.9,1443.3C1211.2,1433.3 1214.4,1413.8 1217.7,1401.5C1221.0,1389.2 1224.4,1376.1 1227.5,1369.5C1230.6,1362.9 1232.0,1360.9 1236.1,1362.1C1240.2,1363.3 1246.1,1369.1 1252.1,1376.9C1258.0,1384.7 1265.6,1397.7 1271.8,1408.8C1278.0,1419.9 1283.3,1433.2 1289.0,1443.3C1294.7,1453.3 1300.0,1462.8 1306.2,1469.1C1312.4,1475.4 1319.3,1477.7 1325.9,1481.4C1332.5,1485.1 1338.2,1488.3 1345.6,1491.2C1353.0,1494.1 1361.1,1496.5 1370.1,1498.6C1379.1,1500.6 1390.5,1502.3 1399.7,1503.5C1408.9,1504.7 1418.3,1505.6 1425.0,1506.0C1431.7,1506.4 1387.5,1506.0 1440.0,1506.0C1492.5,1506.0 1690.0,1506.0 1740.0,1506.0" fill="none" stroke="#444444" stroke-width="3.0" stroke-linejoin="round" stroke-linecap="round"/><path d="M309.7,1772.0C313.1,1771.5 323.8,1770.7 330.0,1769.0C336.2,1767.3 340.5,1763.9 346.8,1762.1C353.1,1760.3 360.1,1758.0 367.9,1758.2C375.7,1758.4 386.7,1763.0 393.7,1763.3C400.7,1763.6 404.5,1761.0 410.0,1760.0C415.5,1759.0 419.9,1756.1 426.5,1757.4C433.1,1758.7 442.6,1765.7 449.9,1768.0C457.1,1770.3 458.3,1770.6 470.0,1771.0C481.7,1771.4 505.0,1771.0 520.0,1770.5C535.0,1770.0 546.7,1768.2 560.0,1768.0C573.3,1767.8 586.7,1768.9 600.0,1769.5C613.3,1770.1 590.0,1771.1 640.0,1771.5C690.0,1771.9 841.7,1772.3 900.0,1772.0C958.3,1771.7 966.7,1770.2 990.0,1769.5C1013.3,1768.8 1025.0,1768.3 1040.0,1768.0C1055.0,1767.7 1071.3,1767.3 1080.0,1767.5C1088.7,1767.7 1087.0,1768.4 1092.0,1769.0C1097.0,1769.6 1103.7,1770.5 1110.0,1771.0C1116.3,1771.5 1098.3,1771.9 1130.0,1772.0C1161.7,1772.1 1265.7,1771.9 1300.0,1771.5C1334.3,1771.1 1324.3,1769.5 1336.0,1769.5C1347.7,1769.5 1357.7,1771.1 1370.0,1771.5C1382.3,1771.9 1403.3,1771.9 1410.0,1772.0" fill="none" stroke="#e63c52" stroke-width="3.0" stroke-linejoin="round" stroke-linecap="round"/><path d="M309.7,1772.0C328.1,1771.8 384.9,1771.5 420.0,1771.0C455.1,1770.5 496.7,1770.2 520.0,1769.0C543.3,1767.8 546.7,1763.5 560.0,1763.5C573.3,1763.5 576.7,1767.7 600.0,1769.0C623.3,1770.3 650.0,1771.1 700.0,1771.5C750.0,1771.9 856.7,1772.1 900.0,1771.5C943.3,1770.9 942.3,1769.4 960.0,1768.0C977.7,1766.6 992.7,1764.1 1006.0,1763.0C1019.3,1761.9 1028.5,1761.8 1040.0,1761.5C1051.5,1761.2 1067.3,1760.6 1075.0,1761.0C1082.7,1761.4 1081.8,1762.5 1086.0,1764.0C1090.2,1765.5 1094.3,1768.8 1100.0,1770.0C1105.7,1771.2 1088.3,1771.2 1120.0,1771.5C1151.7,1771.8 1257.5,1771.9 1290.0,1771.5C1322.5,1771.1 1306.0,1770.1 1315.0,1769.0C1324.0,1767.9 1334.5,1764.8 1344.0,1765.0C1353.5,1765.2 1361.0,1768.8 1372.0,1770.0C1383.0,1771.2 1403.7,1771.7 1410.0,1772.0" fill="none" stroke="#444444" stroke-width="3.0" stroke-linejoin="round" stroke-linecap="round"/><path d="M309.7,1771.5C313.9,1770.1 328.1,1767.0 335.1,1763.3C342.1,1759.6 345.8,1753.5 351.5,1749.2C357.2,1744.9 364.0,1738.7 369.1,1737.5C374.2,1736.3 377.7,1740.0 382.0,1742.2C386.3,1744.4 390.5,1751.2 394.8,1750.4C399.1,1749.6 402.6,1742.8 407.7,1737.5C412.8,1732.2 420.2,1720.0 425.3,1718.8C430.4,1717.6 434.1,1725.4 438.2,1730.5C442.3,1735.6 446.0,1744.5 449.9,1749.2C453.8,1753.9 457.3,1759.4 461.6,1758.6C465.9,1757.8 471.3,1749.1 475.6,1744.6C479.9,1740.1 483.7,1734.4 487.4,1731.7C491.1,1729.0 494.0,1728.4 497.9,1728.2C501.8,1728.0 506.9,1730.1 510.8,1730.5C514.7,1730.9 517.8,1732.8 521.3,1730.5C524.8,1728.2 528.2,1724.3 531.9,1716.5C535.6,1708.7 539.7,1693.5 543.6,1683.7C547.5,1673.9 551.4,1663.2 555.3,1657.9C559.2,1652.6 562.7,1650.9 567.0,1652.1C571.3,1653.3 576.7,1658.9 581.0,1664.9C585.3,1671.0 588.8,1682.4 592.7,1688.4C596.6,1694.5 600.9,1700.4 604.4,1701.2C607.9,1702.0 610.7,1695.1 613.8,1693.0C616.9,1690.9 620.1,1687.6 623.2,1688.4C626.3,1689.2 629.5,1692.2 632.6,1697.7C635.7,1703.2 638.8,1712.9 641.9,1721.1C645.0,1729.3 648.2,1739.5 651.3,1746.9C654.4,1754.3 656.8,1761.5 660.7,1765.6C664.6,1769.7 670.0,1771.1 674.7,1771.5C679.4,1771.9 684.9,1769.4 688.8,1768.0C692.7,1766.6 694.2,1765.6 698.1,1763.3C702.0,1761.0 706.8,1756.7 712.0,1754.2C717.2,1751.7 723.9,1750.8 729.2,1748.1C734.5,1745.4 738.6,1739.7 743.9,1738.3C749.2,1736.9 756.2,1742.2 761.1,1739.5C766.0,1736.8 769.5,1727.2 773.4,1722.3C777.3,1717.4 780.8,1710.8 784.5,1710.0C788.2,1709.2 792.1,1715.2 795.6,1717.4C799.1,1719.7 801.7,1725.5 805.4,1723.5C809.1,1721.5 813.6,1710.0 817.7,1705.1C821.8,1700.2 826.3,1694.4 830.0,1694.0C833.7,1693.6 836.1,1696.2 839.8,1702.6C843.5,1708.9 848.4,1724.3 852.1,1732.1C855.8,1739.9 858.3,1745.8 862.0,1749.3C865.7,1752.8 870.5,1753.4 874.2,1753.0C877.9,1752.6 880.8,1752.8 884.1,1746.9C887.4,1741.0 890.6,1729.3 893.9,1717.4C897.2,1705.5 899.9,1686.5 903.8,1675.6C907.7,1664.7 913.2,1654.2 917.3,1652.2C921.4,1650.2 924.4,1657.3 928.3,1663.3C932.2,1669.2 936.5,1682.2 940.6,1687.9C944.7,1693.6 948.8,1698.5 952.9,1697.7C957.0,1696.9 960.9,1687.5 965.2,1683.0C969.5,1678.5 975.0,1672.2 978.7,1670.6C982.4,1668.9 984.5,1672.3 987.4,1673.1C990.3,1673.9 993.1,1678.0 996.0,1675.6C998.9,1673.1 1001.5,1667.8 1004.6,1658.4C1007.7,1649.0 1011.1,1628.4 1014.4,1619.0C1017.7,1609.6 1020.9,1602.2 1024.2,1601.8C1027.5,1601.4 1030.8,1608.8 1034.1,1616.6C1037.4,1624.4 1041.0,1641.3 1043.9,1648.5C1046.8,1655.7 1048.8,1658.8 1051.3,1659.6C1053.8,1660.4 1055.8,1655.7 1058.7,1653.4C1061.6,1651.2 1065.2,1645.7 1068.5,1646.1C1071.8,1646.5 1074.8,1651.8 1078.3,1655.9C1081.8,1660.0 1085.7,1670.7 1089.5,1670.7C1093.3,1670.7 1097.1,1662.7 1101.1,1656.0C1105.1,1649.3 1109.1,1636.5 1113.7,1630.7C1118.3,1624.9 1124.3,1621.6 1128.5,1621.2C1132.7,1620.8 1135.5,1622.8 1139.0,1628.6C1142.5,1634.4 1146.1,1645.8 1149.6,1656.0C1153.1,1666.2 1156.6,1680.0 1160.1,1689.7C1163.6,1699.4 1167.1,1712.6 1170.6,1714.0C1174.1,1715.4 1178.0,1707.1 1181.2,1698.1C1184.4,1689.1 1186.4,1671.4 1189.6,1660.2C1192.8,1649.0 1196.3,1637.0 1200.2,1630.7C1204.1,1624.4 1209.0,1625.1 1212.8,1622.3C1216.6,1619.5 1219.4,1617.1 1223.3,1613.8C1227.2,1610.5 1232.1,1602.5 1236.0,1602.2C1239.9,1601.9 1243.0,1604.9 1246.5,1611.7C1250.0,1618.5 1253.9,1634.2 1257.1,1643.3C1260.3,1652.4 1262.5,1660.9 1265.5,1666.5C1268.5,1672.1 1271.8,1677.4 1275.0,1677.1C1278.2,1676.8 1281.2,1672.1 1284.5,1664.4C1287.8,1656.7 1291.5,1643.4 1295.0,1630.7C1298.5,1618.0 1302.0,1601.2 1305.5,1588.5C1309.0,1575.8 1312.6,1564.3 1316.1,1554.8C1319.6,1545.3 1323.3,1536.7 1326.6,1531.6C1329.9,1526.5 1332.8,1523.8 1336.1,1524.2C1339.4,1524.6 1343.3,1526.5 1346.6,1533.7C1349.9,1540.9 1352.8,1553.5 1356.1,1567.5C1359.4,1581.5 1362.8,1602.5 1366.7,1618.0C1370.6,1633.5 1375.4,1646.5 1379.3,1660.2C1383.2,1673.9 1386.4,1686.6 1389.9,1700.3C1393.4,1714.0 1397.2,1731.5 1400.4,1742.4C1403.6,1753.3 1406.0,1760.8 1408.8,1765.6C1411.6,1770.4 1413.8,1770.4 1417.3,1771.5C1420.8,1772.6 1427.9,1772.2 1430.0,1772.3" fill="none" stroke="#2a86a4" stroke-width="3.0" stroke-linejoin="round" stroke-linecap="round"/><line x1="1425" y1="1772.5" x2="1738" y2="1772.5" stroke="#1e3440" stroke-width="3.6"/><path d="M309.7,2035.0C312.8,2033.4 322.7,2030.4 328.1,2025.3C333.5,2020.2 337.9,2012.8 342.2,2004.2C346.5,1995.6 349.2,1983.7 353.9,1973.7C358.6,1963.8 365.6,1947.2 370.3,1944.5C375.0,1941.8 377.9,1952.1 382.0,1957.4C386.1,1962.7 390.9,1976.1 394.8,1976.1C398.7,1976.1 402.1,1966.8 405.4,1957.4C408.7,1948.0 411.3,1929.9 414.8,1919.9C418.3,1909.9 422.6,1898.4 426.5,1897.6C430.4,1896.8 434.3,1903.3 438.2,1915.2C442.1,1927.1 445.8,1954.1 449.9,1969.1C454.0,1984.1 458.5,2002.7 462.8,2005.4C467.1,2008.1 471.5,1994.3 475.6,1985.5C479.7,1976.7 483.7,1960.5 487.4,1952.7C491.1,1944.9 494.4,1940.2 497.9,1938.6C501.4,1937.0 505.3,1941.3 508.4,1943.3C511.5,1945.2 513.9,1951.9 516.6,1950.3C519.3,1948.7 521.9,1944.4 524.8,1933.9C527.7,1923.4 531.1,1902.7 534.2,1887.1C537.3,1871.5 540.1,1855.5 543.6,1840.3C547.1,1825.1 551.4,1806.1 555.3,1795.8C559.2,1785.5 563.1,1778.2 567.0,1778.2C570.9,1778.2 574.8,1785.5 578.7,1795.8C582.6,1806.1 587.3,1828.2 590.4,1840.3C593.5,1852.4 594.9,1862.8 597.4,1868.4C599.9,1874.1 602.9,1875.4 605.6,1874.2C608.3,1873.0 611.1,1864.8 613.8,1861.3C616.5,1857.8 618.9,1851.9 622.0,1853.1C625.1,1854.3 629.3,1856.9 632.6,1868.4C635.9,1879.9 638.8,1903.5 641.9,1922.2C645.0,1940.9 648.2,1964.4 651.3,1980.8C654.4,1997.2 657.6,2011.4 660.7,2020.6C663.8,2029.8 666.1,2032.8 670.0,2035.8C673.9,2038.8 675.8,2038.0 684.1,2038.5C692.4,2039.0 707.4,2039.4 720.0,2039.0C732.6,2038.6 749.4,2037.2 760.0,2036.0C770.6,2034.8 776.0,2031.5 783.5,2031.5C791.0,2031.5 797.4,2036.0 805.0,2036.0C812.6,2036.0 821.7,2031.5 829.2,2031.5C836.7,2031.5 841.5,2035.1 850.0,2036.0C858.5,2036.9 869.3,2037.9 880.0,2037.0C890.7,2036.1 904.4,2030.8 914.4,2030.6C924.4,2030.4 929.1,2035.3 940.0,2036.0C950.9,2036.7 970.0,2036.0 980.0,2035.0C990.0,2034.0 992.7,2032.1 1000.0,2030.0C1007.3,2027.9 1014.9,2021.4 1024.0,2022.4C1033.1,2023.4 1043.7,2033.5 1054.4,2036.0C1065.1,2038.5 1078.7,2038.8 1088.0,2037.6C1097.3,2036.4 1101.9,2032.5 1110.0,2029.0C1118.1,2025.5 1128.3,2016.1 1136.6,2016.3C1144.9,2016.5 1153.6,2028.0 1160.0,2030.0C1166.4,2032.0 1168.8,2029.8 1175.0,2028.0C1181.2,2026.2 1189.8,2018.8 1196.9,2019.0C1204.0,2019.2 1211.0,2027.4 1217.5,2029.1C1224.0,2030.8 1229.3,2029.2 1236.2,2029.1C1243.1,2029.0 1250.9,2027.7 1258.7,2028.3C1266.5,2028.9 1275.8,2032.1 1283.0,2032.5C1290.2,2032.9 1295.5,2033.4 1301.8,2030.6C1308.0,2027.8 1313.3,2019.8 1320.5,2015.6C1327.7,2011.4 1337.1,2005.6 1344.9,2005.3C1352.7,2005.0 1360.5,2010.1 1367.4,2013.7C1374.3,2017.3 1380.5,2023.0 1386.1,2026.8C1391.7,2030.5 1396.3,2034.1 1401.1,2036.2C1405.9,2038.3 1410.2,2039.0 1415.0,2039.5C1419.8,2040.0 1375.8,2039.5 1430.0,2039.5C1484.2,2039.5 1688.3,2039.5 1740.0,2039.5" fill="none" stroke="#444444" stroke-width="3.0" stroke-linejoin="round" stroke-linecap="round"/><path d="M309.7,2039.0 L1405.0,2039.0" fill="none" stroke="#e63c52" stroke-width="3.0"/><line x1="1089.3" y1="1239.5" x2="1089.3" y2="974.7" stroke="#6c2ca0" stroke-width="4" stroke-dasharray="26.5 23.5"/><line x1="1089.3" y1="1506.0" x2="1089.3" y2="1239.5" stroke="#6c2ca0" stroke-width="4" stroke-dasharray="26.5 23.5"/><line x1="1089.3" y1="1772.5" x2="1089.3" y2="1506.0" stroke="#6c2ca0" stroke-width="4" stroke-dasharray="26.5 23.5"/><line x1="1089.3" y1="2039.5" x2="1089.3" y2="1772.5" stroke="#6c2ca0" stroke-width="4" stroke-dasharray="26.5 23.5"/><text class="tk" x="276.5" y="992.7" text-anchor="end">2</text><text class="tk" x="276.5" y="1125.5" text-anchor="end">1</text><text class="tk" x="276.5" y="1258.5" text-anchor="end">0.4</text><text class="tk" x="276.5" y="1392.0" text-anchor="end">0.2</text><text class="tk" x="276.5" y="1525.0" text-anchor="end">50</text><text class="tk" x="276.5" y="1658.7" text-anchor="end">25</text><text class="tk" x="276.5" y="1791.5" text-anchor="end">20</text><text class="tk" x="276.5" y="1925.0" text-anchor="end">10</text><text class="tk" x="276.5" y="2058.5" text-anchor="end">0</text><text class="tk" x="309.7" y="2123.0" text-anchor="middle">−6</text><text class="tk" x="569.7" y="2123.0" text-anchor="middle">−4</text><text class="tk" x="829.7" y="2123.0" text-anchor="middle">−2</text><text class="tk" x="1089.7" y="2123.0" text-anchor="middle">0</text><text class="tk" x="1349.7" y="2123.0" text-anchor="middle">2</text><text class="tk" x="1609.7" y="2123.0" text-anchor="middle">4</text><line x1="1417.4" y1="1045.7" x2="1537.6" y2="1045.7" stroke="#ee5b62" stroke-width="4"/><text class="lg" x="1549" y="1063">H_s</text><line x1="1415.3" y1="1305.3" x2="1533.3" y2="1305.3" stroke="#ee5b62" stroke-width="4"/><text class="lg" x="1545" y="1322">Al_s</text><line x1="1415.3" y1="1369.6" x2="1533.3" y2="1369.6" stroke="#585858" stroke-width="4"/><text class="lg" x="1545" y="1386.5">Al_p</text><line x1="1416.3" y1="1572.2" x2="1535.4" y2="1572.2" stroke="#ee5b62" stroke-width="4"/><text class="lg" x="1547" y="1590">Nb_s</text><line x1="1416.3" y1="1636.5" x2="1535.4" y2="1636.5" stroke="#585858" stroke-width="4"/><text class="lg" x="1547" y="1653.3">Nb_p</text><line x1="1416.3" y1="1699.7" x2="1535.4" y2="1699.7" stroke="#2a88a8" stroke-width="4"/><text class="lg" x="1547" y="1716.6">Nb_d</text><line x1="1419.5" y1="1838.5" x2="1537.6" y2="1838.5" stroke="#ee5b62" stroke-width="4"/><text class="lg" x="1550" y="1856.4">C_s</text><line x1="1419.5" y1="1902.7" x2="1537.6" y2="1902.7" stroke="#585858" stroke-width="4"/><text class="lg" x="1550" y="1920.7">C_p</text><text class="ax" x="811.7" y="2243" font-size="83">Energy (eV)</text><text class="ax" font-size="83" transform="translate(155.5,1640) rotate(-90)">PDOS</text><text class="pl" font-size="108" transform="translate(25.8,962)">b</text></svg></body></html>
